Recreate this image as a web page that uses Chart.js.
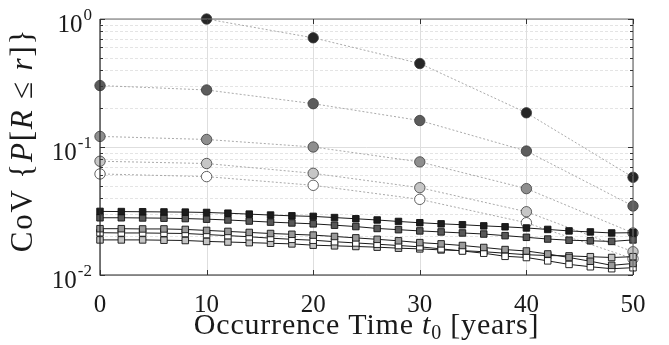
<!DOCTYPE html>
<html>
<head>
<meta charset="utf-8">
<script src="https://cdn.jsdelivr.net/npm/chart.js@4"></script>
<style>
  html, body { margin: 0; padding: 0; background: #fff; }
  #wrap { width: 669px; height: 345px; }
</style>
</head>
<body>
<div id="wrap"><canvas id="cov-chart" width="669" height="345"></canvas></div>
<script>
const SERIF = '"Liberation Serif", "Times New Roman", serif';

// circle series: sampled every 10 years (dotted lines)
const circleYears = [0, 10, 20, 30, 40, 50];
const circleA = [null, 1.0, 0.713, 0.449, 0.185, 0.058];
const circleB = [0.302, 0.279, 0.218, 0.161, 0.093, 0.0346];
const circleC = [0.121, 0.1145, 0.100, 0.0765, 0.0473, 0.0213];
const circleD = [0.0774, 0.0743, 0.0623, 0.0481, 0.0312, 0.0152];
const circleE = [0.0616, 0.0587, 0.0502, 0.0390, 0.0256, 0.0134];
const circleFills = ['#262626', '#5c5c5c', '#8e8e8e', '#c6c6c6', '#ffffff'];

// square series: sampled every 2 years (solid lines)
const squareYears = [0, 2, 4, 6, 8, 10, 12, 14, 16, 18, 20, 22, 24, 26, 28, 30, 32, 34, 36, 38, 40, 42, 44, 46, 48, 50];
const squareA = [0.0314, 0.0313, 0.0312, 0.0311, 0.0310, 0.0308, 0.0304, 0.0299, 0.0294, 0.0290, 0.0287, 0.0281, 0.0275,
                 0.0269, 0.0262, 0.0256, 0.0251, 0.0247, 0.0242, 0.0238, 0.0233, 0.0227, 0.0221, 0.0217, 0.0213, 0.0214];
const squareB = [0.0280, 0.0280, 0.0279, 0.0278, 0.0276, 0.0273, 0.0269, 0.0264, 0.0259, 0.0255, 0.0251, 0.0245, 0.0239,
                 0.0231, 0.0226, 0.0221, 0.0217, 0.0213, 0.0209, 0.0203, 0.0197, 0.0191, 0.0187, 0.0185, 0.0183, 0.0188];
const squareC = [0.0230, 0.0230, 0.0229, 0.0229, 0.0227, 0.0223, 0.0219, 0.0215, 0.0211, 0.0208, 0.0205, 0.0200, 0.0195,
                 0.0190, 0.0185, 0.0179, 0.0175, 0.0170, 0.0164, 0.0158, 0.0154, 0.0146, 0.0137, 0.0128, 0.0119, 0.0123];
const squareD = [0.0214, 0.0213, 0.0213, 0.0212, 0.0211, 0.0207, 0.0203, 0.0199, 0.0194, 0.0190, 0.0187, 0.0182, 0.0178,
                 0.0174, 0.0170, 0.0166, 0.0160, 0.0154, 0.0148, 0.0140, 0.0137, 0.0129, 0.0121, 0.0116, 0.0112, 0.0114];
const squareE = [0.0188, 0.0188, 0.0188, 0.0187, 0.0186, 0.0183, 0.0181, 0.0179, 0.0177, 0.0175, 0.0171, 0.0169, 0.0167,
                 0.0165, 0.0162, 0.0160, 0.0157, 0.0155, 0.0152, 0.0148, 0.0144, 0.0142, 0.0141, 0.0139, 0.0137, 0.0139];
const squareFills = ['#1c1c1c', '#585858', '#9a9a9a', '#ffffff', '#c4c4c4'];

// axes
const xTicks = [0, 10, 20, 30, 40, 50];
const yDecades = [0.01, 0.1, 1];
const yExponents = ['-2', '-1', '0'];
const yMinorSteps = [2, 3, 4, 5, 6, 7, 8, 9];

const toPoints = (xs, ys) => xs.map((x, i) => ({ x: x, y: ys[i] })).filter(p => p.y !== null);

const circleSets = [circleA, circleB, circleC, circleD, circleE].map((ys, i) => ({
  data: toPoints(circleYears, ys),
  borderColor: '#a0a0a0',
  borderWidth: 0.9,
  borderDash: [2, 2],
  pointStyle: 'circle',
  pointRadius: 5.2,
  pointBackgroundColor: circleFills[i],
  pointBorderColor: '#3a3a3a',
  pointBorderWidth: 0.8,
  clip: false
}));

const squareSets = [squareA, squareB, squareC, squareD, squareE].map((ys, i) => ({
  data: toPoints(squareYears, ys),
  borderColor: '#1a1a1a',
  borderWidth: 1,
  pointStyle: 'rect',
  pointRadius: 4.6,
  pointBackgroundColor: squareFills[i],
  pointBorderColor: '#111',
  pointBorderWidth: 0.9,
  clip: false
}));

// draws grid, box, ticks, superscript labels and axis titles
const framePlugin = {
  id: 'frame',
  beforeDatasetsDraw(chart) {
    const { ctx, chartArea: a, scales: { x, y } } = chart;
    ctx.save();
    ctx.lineWidth = 1;
    // minor horizontal grid
    ctx.strokeStyle = '#e4e4e4';
    ctx.setLineDash([3, 2]);
    yDecades.slice(0, -1).forEach(d => {
      yMinorSteps.forEach(m => {
        const py = Math.round(y.getPixelForValue(d * m)) + 0.5;
        ctx.beginPath(); ctx.moveTo(a.left, py); ctx.lineTo(a.right, py); ctx.stroke();
      });
    });
    // major grid
    ctx.setLineDash([]);
    ctx.strokeStyle = '#dedede';
    yDecades.forEach(d => {
      const py = Math.round(y.getPixelForValue(d)) + 0.5;
      ctx.beginPath(); ctx.moveTo(a.left, py); ctx.lineTo(a.right, py); ctx.stroke();
    });
    xTicks.forEach(t => {
      const px = Math.round(x.getPixelForValue(t)) + 0.5;
      ctx.beginPath(); ctx.moveTo(px, a.top); ctx.lineTo(px, a.bottom); ctx.stroke();
    });
    ctx.restore();
  },
  afterDatasetsDraw(chart) {
    const { ctx, chartArea: a, scales: { x, y } } = chart;
    ctx.save();
    // box
    ctx.lineWidth = 1.2;
    ctx.strokeStyle = '#6e6e6e';
    ctx.beginPath(); ctx.moveTo(a.left, a.top); ctx.lineTo(a.right, a.top); ctx.lineTo(a.right, a.bottom); ctx.stroke();
    ctx.strokeStyle = '#262626';
    ctx.beginPath(); ctx.moveTo(a.left, a.top); ctx.lineTo(a.left, a.bottom); ctx.lineTo(a.right, a.bottom); ctx.stroke();
    // ticks
    ctx.lineWidth = 1;
    ctx.strokeStyle = '#333';
    xTicks.forEach(t => {
      const px = Math.round(x.getPixelForValue(t)) + 0.5;
      ctx.beginPath();
      ctx.moveTo(px, a.bottom); ctx.lineTo(px, a.bottom - 5);
      ctx.moveTo(px, a.top); ctx.lineTo(px, a.top + 5);
      ctx.stroke();
    });
    yDecades.forEach((d, k) => {
      const py = Math.round(y.getPixelForValue(d)) + 0.5;
      ctx.beginPath();
      ctx.moveTo(a.left, py); ctx.lineTo(a.left + 5, py);
      ctx.moveTo(a.right, py); ctx.lineTo(a.right - 5, py);
      ctx.stroke();
      if (k < yDecades.length - 1) {
        yMinorSteps.forEach(m => {
          const pm = Math.round(y.getPixelForValue(d * m)) + 0.5;
          ctx.beginPath();
          ctx.moveTo(a.left, pm); ctx.lineTo(a.left + 3, pm);
          ctx.moveTo(a.right, pm); ctx.lineTo(a.right - 3, pm);
          ctx.stroke();
        });
      }
    });
    // y tick labels 10^k
    ctx.fillStyle = '#1a1a1a';
    ctx.textBaseline = 'alphabetic';
    yDecades.forEach((d, k) => {
      const py = y.getPixelForValue(d);
      ctx.font = '17px ' + SERIF;
      const supW = ctx.measureText(yExponents[k]).width;
      const right = a.left - 8;
      ctx.textAlign = 'right';
      ctx.fillText(yExponents[k], right, py + 1);
      ctx.font = '25px ' + SERIF;
      ctx.fillText('10', right - supW - 1, py + 13);
    });
    // x axis title with italic t and subscript 0
    const xParts = [
      ['Occurrence Time ', '30px ' + SERIF, 0],
      ['t', 'italic 30px ' + SERIF, 0],
      ['0', '20px ' + SERIF, 5],
      [' [years]', '30px ' + SERIF, 0]
    ];
    drawParts(ctx, xParts, (a.left + a.right) / 2, 334, 0.8);
    // y axis title, rotated
    ctx.translate(32, (a.top + a.bottom) / 2 - 7);
    ctx.rotate(-Math.PI / 2);
    const yParts = [
      ['CoV {', '31px ' + SERIF, 0],
      ['P', 'italic 31px ' + SERIF, 0],
      ['[', '31px ' + SERIF, 0],
      ['R', 'italic 31px ' + SERIF, 0],
      [' \u2264 ', '31px ' + SERIF, 0],
      ['r', 'italic 31px ' + SERIF, 0],
      [']}', '31px ' + SERIF, 0]
    ];
    drawParts(ctx, yParts, 0, 0, 1.8);
    ctx.restore();
  }
};

function drawParts(ctx, parts, cx, baseline, spacing) {
  ctx.letterSpacing = spacing + 'px';
  let total = 0;
  parts.forEach(p => { ctx.font = p[1]; total += ctx.measureText(p[0]).width; });
  let pos = cx - total / 2;
  ctx.textAlign = 'left';
  ctx.fillStyle = '#1a1a1a';
  parts.forEach(p => {
    ctx.font = p[1];
    ctx.fillText(p[0], pos, baseline + p[2]);
    pos += ctx.measureText(p[0]).width;
  });
  ctx.letterSpacing = '0px';
}

const ctx = document.getElementById('cov-chart').getContext('2d');
new Chart(ctx, {
  type: 'line',
  data: { datasets: squareSets.concat(circleSets) },
  options: {
    responsive: false,
    animation: false,
    layout: { padding: { top: 19, right: 36, left: 0, bottom: 0 } },
    plugins: { legend: { display: false }, tooltip: { enabled: false } },
    scales: {
      x: {
        type: 'linear',
        min: 0,
        max: 50,
        afterFit: (s) => { s.height = 70; },
        afterBuildTicks: (s) => { s.ticks = xTicks.map(v => ({ value: v })); },
        grid: { display: false },
        border: { display: false },
        ticks: {
          color: '#1a1a1a',
          font: { family: SERIF, size: 25 },
          padding: 7,
          maxRotation: 0
        }
      },
      y: {
        type: 'logarithmic',
        min: 0.01,
        max: 1,
        afterFit: (s) => { s.width = 100; },
        grid: { display: false },
        border: { display: false },
        ticks: { display: false }
      }
    }
  },
  plugins: [framePlugin]
});
</script>
</body>
</html>
